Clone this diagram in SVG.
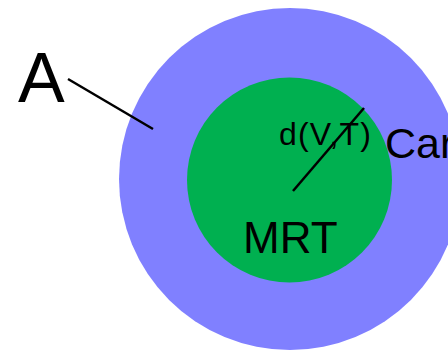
<svg xmlns="http://www.w3.org/2000/svg" width="448" height="350" viewBox="0 0 448 350">
<style>
text{font-family:"Liberation Sans",Arial,sans-serif;fill:#000}
.ln{stroke:#000;stroke-width:2.5;fill:none}
</style>
<rect width="448" height="350" fill="#fff"/>
<g id="outer"><circle cx="290" cy="179" r="171" fill="#8080FF"/></g>
<g id="inner"><circle cx="289.5" cy="180" r="102.5" fill="#00B050"/></g>
<g id="labels">
<text x="18" y="102" font-size="70">A</text>
<text x="279" y="145" font-size="32" textLength="92" lengthAdjust="spacing">d(V,T)</text>
<text x="385" y="158" font-size="43">Car</text>
<text x="243" y="253" font-size="44">MRT</text>
</g>
<g id="connectors">
<line class="ln" x1="68" y1="79" x2="153" y2="129"/>
<line class="ln" x1="293" y1="191" x2="364" y2="108"/>
</g>
</svg>
